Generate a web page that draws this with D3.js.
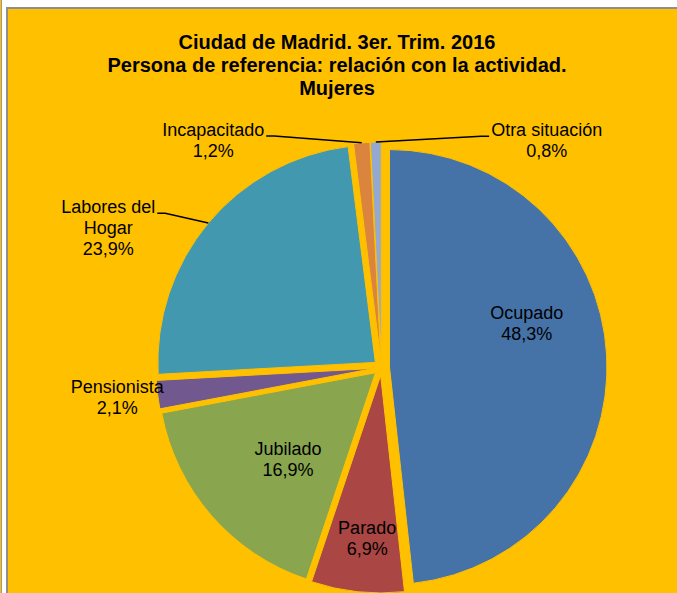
<!DOCTYPE html>
<html>
<head>
<meta charset="utf-8">
<script src="https://cdn.jsdelivr.net/npm/d3@7"></script>
<style>
  html, body { margin: 0; padding: 0; background: #fff; }
  svg { display: block; font-family: "Liberation Sans", Arial, sans-serif; }
</style>
</head>
<body>
<svg id="chart" width="677" height="593"></svg>
<script>
// --- données ---
const titleLines = [
  "Ciudad de Madrid. 3er. Trim. 2016",
  "Persona de referencia: relación con la actividad.",
  "Mujeres"
];
const categories = ["Ocupado", "Parado", "Jubilado", "Pensionista", "Labores del Hogar", "Incapacitado", "Otra situación"];
const values = [48.3, 6.9, 16.9, 2.1, 23.9, 1.2, 0.8];
const colors = ["#4572A7", "#AA4643", "#89A54E", "#71588F", "#4198AF", "#DB843D", "#93A9CF"];
// retours à la ligne des étiquettes
const labelLines = [["Ocupado"], ["Parado"], ["Jubilado"], ["Pensionista"], ["Labores del", "Hogar"], ["Incapacitado"], ["Otra situación"]];

// --- mise en page (angle en degrés depuis midi, rayon en px) ---
const labelPolar = [[73, 152], [184.8, 171.6], [225.5, 131], [263.6, 266], [297.1, 307], [323.5, 283], [36, 281]];
const withLeader = [false, false, false, false, true, true, true];

const W = 677, H = 593;
const cx = 381.5, cy = 367.5, R = 217.5, explode = 8;
const lineH = 21;
const fmt = v => d3.format(".1f")(v).replace(".", ",") + "%";

const svg = d3.select("#chart");

// cadre
svg.append("rect").attr("x", 0).attr("y", 0).attr("width", 1).attr("height", H).attr("fill", "#FFC000");
svg.append("line").attr("x1", 1.5).attr("x2", 1.5).attr("y1", 0).attr("y2", H)
  .attr("stroke", "#9a9a9a").attr("stroke-width", 1);
svg.append("rect")
  .attr("x", 7).attr("y", 8).attr("width", W + 10).attr("height", H + 10)
  .attr("fill", "#FFC000").attr("stroke", "#8f8f8f").attr("stroke-width", 2);

// titre
svg.append("g")
  .selectAll("text")
  .data(titleLines)
  .join("text")
  .attr("x", 337)
  .attr("y", (d, i) => 49 + i * 23)
  .attr("text-anchor", "middle")
  .attr("font-size", 20)
  .attr("font-weight", "bold")
  .attr("fill", "#000")
  .text(d => d);

// camembert
const pie = d3.pie().sort(null).value(d => d)(values);
const arc = d3.arc().innerRadius(0).outerRadius(R);
const mid = d => (d.startAngle + d.endAngle) / 2;

const g = svg.append("g").attr("transform", `translate(${cx},${cy})`);
g.selectAll("path")
  .data(pie)
  .join("path")
  .attr("d", arc)
  .attr("transform", d => {
    const a = mid(d);
    return `translate(${explode * Math.sin(a)},${-explode * Math.cos(a)})`;
  })
  .attr("fill", (d, i) => colors[i])
  .attr("stroke", "#FFC000")
  .attr("stroke-width", 1);

// étiquettes
const labels = svg.append("g");
pie.forEach((d, i) => {
  const [angDeg, rad] = labelPolar[i];
  const a = angDeg * Math.PI / 180;
  const x = cx + rad * Math.sin(a);
  const yc = cy - rad * Math.cos(a);
  const lines = labelLines[i].concat([fmt(values[i])]);
  const y0 = yc - (lines.length - 1) * lineH / 2 + 6.5;

  const t = labels.append("g");
  const texts = t.selectAll("text")
    .data(lines)
    .join("text")
    .attr("x", x)
    .attr("y", (l, k) => y0 + k * lineH)
    .attr("text-anchor", "middle")
    .attr("font-size", 18)
    .attr("fill", "#000")
    .text(l => l);

  if (withLeader[i]) {
    const w = texts.nodes()[0].getComputedTextLength();
    const m = mid(d);
    const sx = cx + (R + explode) * Math.sin(m);
    const sy = cy - (R + explode) * Math.cos(m);
    const left = x < cx;
    const ex = left ? x + w / 2 + 2 : x - w / 2 - 2;
    const bx = left ? ex + 8 : ex - 8;
    labels.append("polyline")
      .attr("points", [[ex, y0], [bx, y0], [sx, sy]].map(p => p.join(",")).join(" "))
      .attr("fill", "none")
      .attr("stroke", "#000")
      .attr("stroke-width", 1.5);
  }
});
</script>
</body>
</html>
